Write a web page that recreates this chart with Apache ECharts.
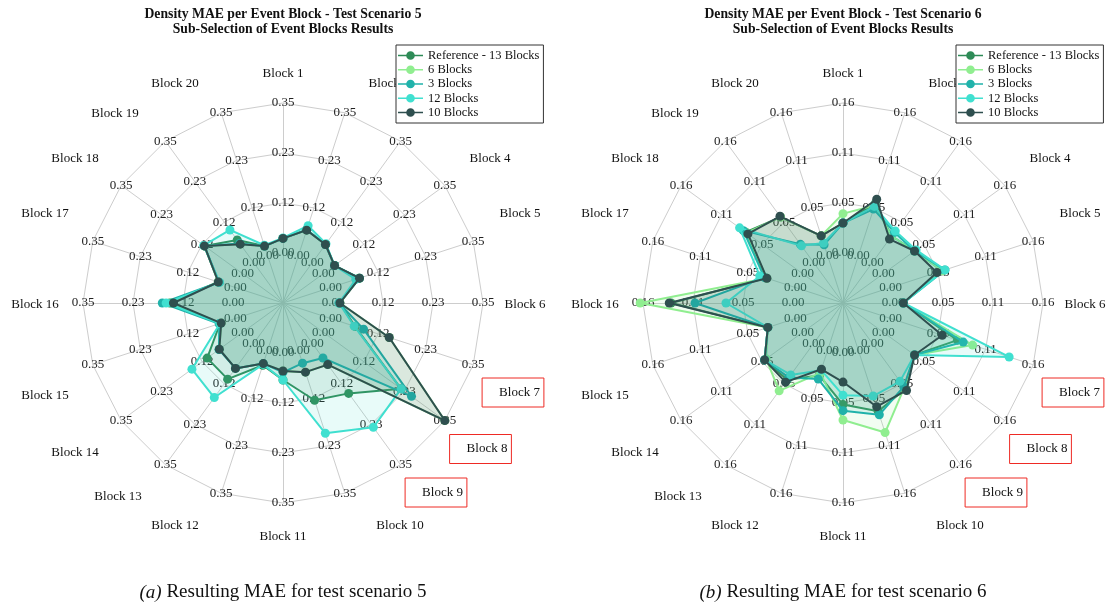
<!DOCTYPE html>
<html>
<head>
<meta charset="utf-8">
<script src="https://cdn.jsdelivr.net/npm/echarts@6/dist/echarts.min.js"></script>
<style>
  html, body { margin: 0; padding: 0; background: #ffffff; }
  #chart { width: 1110px; height: 604px; }
</style>
</head>
<body>
<div id="chart"></div>
<script>
// Event blocks, listed clockwise from the top of each radar
const blocks = ['Block 1', 'Block 2', 'Block 3', 'Block 4', 'Block 5', 'Block 6', 'Block 7',
  'Block 8', 'Block 9', 'Block 10', 'Block 11', 'Block 12', 'Block 13', 'Block 14', 'Block 15',
  'Block 16', 'Block 17', 'Block 18', 'Block 19', 'Block 20'];
const highlightedBlocks = ['Block 7', 'Block 8', 'Block 9'];

const seriesNames = ['Reference - 13 Blocks', '6 Blocks', '3 Blocks', '12 Blocks', '10 Blocks'];
const seriesColors = ['#2e8b57', '#90ee90', '#20b2aa', '#40e0d0', '#2f4f4f'];

// Test scenario 5: density MAE per event block
const s5Reference = [0.034, 0.063, 0.052, 0.032, 0.071, 0.016, 0.060, 0.224, 0.144, 0.122, 0.063, 0.036, 0.103, 0.102, 0.038, 0.147, 0.042, 0.110, 0.065, 0.023];
const s5Blocks6   = [0.034, 0.062, 0.052, 0.032, 0.070, 0.016, 0.144, 0.350, 0.061, 0.053, 0.042, 0.032, 0.072, 0.067, 0.035, 0.145, 0.042, 0.110, 0.053, 0.023];
const s5Blocks3   = [0.034, 0.063, 0.052, 0.032, 0.071, 0.014, 0.081, 0.254, 0.042, 0.031, 0.045, 0.032, 0.072, 0.068, 0.040, 0.165, 0.040, 0.110, 0.055, 0.023];
const s5Blocks12  = [0.035, 0.073, 0.054, 0.032, 0.062, 0.014, 0.058, 0.224, 0.242, 0.203, 0.063, 0.034, 0.156, 0.146, 0.038, 0.156, 0.039, 0.112, 0.094, 0.025];
const s5Blocks10  = [0.034, 0.062, 0.052, 0.032, 0.071, 0.016, 0.144, 0.350, 0.061, 0.053, 0.042, 0.032, 0.072, 0.067, 0.035, 0.139, 0.042, 0.110, 0.053, 0.023];

// Test scenario 6: density MAE per event block
const s6Reference = [0.032, 0.058, 0.035, 0.041, 0.058, 0.011, 0.075, 0.041, 0.060, 0.068, 0.055, 0.028, 0.048, 0.050, 0.031, 0.130, 0.033, 0.075, 0.060, 0.022];
const s6Blocks6   = [0.042, 0.056, 0.035, 0.041, 0.058, 0.011, 0.092, 0.041, 0.058, 0.092, 0.0715, 0.025, 0.0625, 0.048, 0.031, 0.163, 0.032, 0.074, 0.060, 0.022];
const s6Blocks3   = [0.032, 0.052, 0.040, 0.041, 0.061, 0.011, 0.0815, 0.041, 0.057, 0.072, 0.0615, 0.032, 0.045, 0.050, 0.031, 0.1045, 0.035, 0.078, 0.024, 0.012];
const s6Blocks12  = [0.032, 0.055, 0.0415, 0.043, 0.061, 0.011, 0.133, 0.041, 0.050, 0.051, 0.045, 0.022, 0.0415, 0.050, 0.031, 0.0715, 0.040, 0.083, 0.022, 0.014];
const s6Blocks10  = [0.032, 0.063, 0.031, 0.041, 0.052, 0.011, 0.058, 0.041, 0.062, 0.063, 0.031, 0.021, 0.051, 0.050, 0.031, 0.132, 0.032, 0.072, 0.061, 0.022];

// Outer ring value of each radar (rings are drawn at max/3 steps, starting one step below zero)
const s5Max = 0.35;
const s6Max = 0.16;

const titles = [
  'Density MAE per Event Block - Test Scenario 5\nSub-Selection of Event Blocks Results',
  'Density MAE per Event Block - Test Scenario 6\nSub-Selection of Event Blocks Results'
];
const captionTags = ['(a)', '(b)'];
const captions = ['Resulting MAE for test scenario 5', 'Resulting MAE for test scenario 6'];

const SERIF = '"Liberation Serif", "Times New Roman", serif';
const NAME_SIZE = 13;
const RADIUS = 200;
const NAME_GAP = 15;
const CENTER_Y = 303;
const centersX = [283, 843];
const BOX_PAD = [8, 4, 8, 17];

// Where each block name sits, relative to the radar centre (px): text centre, or box centre when boxed
const nameOffsets = [
  [0, -231], [106, -221], [166, -191], [207, -146], [237, -91], [242, 0], [230, 89.5],
  [197.5, 146], [153, 189.5], [117, 221], [0, 232], [-108, 221], [-165, 192], [-208, 148],
  [-238, 91], [-248, 0], [-238, -91], [-208, -146], [-168, -191], [-108, -221]
];

// ECharts lays indicators out counter-clockwise; reorder so blocks run clockwise
const order = blocks.map((_, j) => (j === 0 ? 0 : blocks.length - j));

// Names are centred on the axis end; invisible spacer tokens move each one to its place
const rich = {
  nm: { fontFamily: SERIF, fontSize: NAME_SIZE, color: '#111' },
  bx: { fontFamily: SERIF, fontSize: NAME_SIZE, color: '#111', borderColor: '#ee2a24', borderWidth: 1, padding: BOX_PAD }
};
const nameParts = blocks.map((name, k) => {
  const a = k * Math.PI * 2 / blocks.length;
  const s = Math.sin(a), c = Math.cos(a);
  const boxed = highlightedBlocks.includes(name);
  const style = boxed ? 'bx' : 'nm';
  const tx = nameOffsets[k][0];
  const ty = nameOffsets[k][1] + (boxed ? 0 : 2);
  const r0 = RADIUS + NAME_GAP;
  const dx = tx - r0 * s;
  const dy = ty + r0 * c;
  let line = '{' + style + '|' + name + '}';
  if (Math.abs(dx) > 0.5) {
    rich['h' + k] = { width: 2 * Math.abs(dx), height: 1 };
    line = dx > 0 ? '{h' + k + '|}' + line : line + '{h' + k + '|}';
  }
  let text = line;
  if (Math.abs(dy) > 0.5) {
    const H = 2 * Math.abs(dy);
    rich['v' + k] = { width: 1, height: H, lineHeight: H };
    text = dy > 0 ? '{v' + k + '|}\n' + line : line + '\n{v' + k + '|}';
  }
  return text;
});

function buildRadar(cx, max) {
  const step = max / 3;
  return {
    center: [cx, CENTER_Y],
    radius: RADIUS,
    startAngle: 90,
    shape: 'polygon',
    splitNumber: 4,
    nameGap: NAME_GAP,
    nameMoveOverlap: false,
    indicator: order.map(i => ({ name: blocks[i], min: -step, max: max, nameMoveOverlap: false })),
    axisName: {
      fontFamily: SERIF,
      fontSize: NAME_SIZE,
      color: '#111',
      align: 'center',
      verticalAlign: 'middle',
      formatter: name => nameParts[blocks.indexOf(name)],
      rich: rich
    },
    axisLine: { lineStyle: { color: '#cdcdcd', width: 1 } },
    splitLine: {
      lineStyle: {
        color: ['rgba(0,0,0,0)', 'rgba(0,0,0,0)', '#cdcdcd', '#cdcdcd', '#cdcdcd', '#cdcdcd'],
        width: 1
      }
    },
    splitArea: { show: false },
    axisTick: { show: false },
    axisLabel: {
      show: true,
      margin: 0,
      align: 'center',
      verticalAlign: 'middle',
      padding: [4, 0, 0, 0],
      fontFamily: SERIF,
      fontSize: 13,
      color: '#222',
      formatter: v => (v < -1e-6 ? '' : (Math.abs(v) < 1e-9 ? 0 : v).toFixed(2))
    }
  };
}

const scenarioData = [
  [s5Reference, s5Blocks6, s5Blocks3, s5Blocks12, s5Blocks10],
  [s6Reference, s6Blocks6, s6Blocks3, s6Blocks12, s6Blocks10]
];

const series = [];
scenarioData.forEach((list, r) => {
  list.forEach((values, i) => {
    series.push({
      type: 'radar',
      radarIndex: r,
      name: seriesNames[i],
      symbol: 'circle',
      symbolSize: 9,
      z: 2 + i,
      lineStyle: { color: seriesColors[i], width: 2 },
      itemStyle: { color: seriesColors[i] },
      areaStyle: { color: seriesColors[i], opacity: 0.12 },
      data: [{ name: seriesNames[i], value: order.map(k => values[k]) }]
    });
  });
});

// Legend icon: short line with a dot in the middle
const legendIcon = 'path://M0,3.6 L26,3.6 L26,5.4 L0,5.4 Z M8.5,4.5 A4.5,4.5 0 1 1 17.5,4.5 A4.5,4.5 0 1 1 8.5,4.5 Z';
function buildLegend(left) {
  return {
    left: left,
    top: 45,
    orient: 'vertical',
    itemWidth: 25,
    itemHeight: 9,
    itemGap: 1.25,
    padding: [4, 4, 4, 2],
    borderColor: '#333',
    borderWidth: 1,
    borderRadius: 0,
    backgroundColor: '#ffffff',
    selectedMode: false,
    textStyle: { fontFamily: SERIF, fontSize: 12.5, lineHeight: 12, color: '#111' },
    data: seriesNames.map((n, i) => ({ name: n, icon: legendIcon, itemStyle: { color: seriesColors[i], borderWidth: 0 } }))
  };
}

const title = [];
centersX.forEach((cx, i) => {
  title.push({
    text: titles[i],
    left: cx - 5,
    top: 2,
    textAlign: 'center',
    textStyle: { fontFamily: SERIF, fontWeight: 'bold', fontSize: 13.7, lineHeight: 15, color: '#111' }
  });
  title.push({
    text: '{i|' + captionTags[i] + '} ' + captions[i],
    left: cx - 5,
    top: 578,
    textAlign: 'center',
    textStyle: {
      fontFamily: SERIF, fontSize: 19, fontWeight: 'normal', color: '#111',
      rich: { i: { fontFamily: SERIF, fontSize: 19, fontStyle: 'italic', fontWeight: 'normal', color: '#111' } }
    }
  });
});

const chart = echarts.init(document.getElementById('chart'), null, { renderer: 'canvas' });
chart.setOption({
  backgroundColor: '#ffffff',
  animation: false,
  title: title,
  legend: [buildLegend(396), buildLegend(956)],
  radar: [buildRadar(centersX[0], s5Max), buildRadar(centersX[1], s6Max)],
  series: series
});
</script>
</body>
</html>
